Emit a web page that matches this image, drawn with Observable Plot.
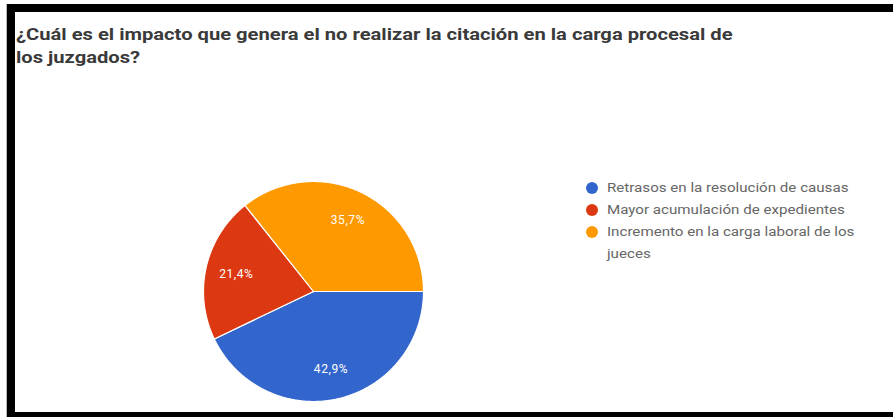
<!DOCTYPE html>
<html>
<head>
<meta charset="utf-8">
<script src="https://cdn.jsdelivr.net/npm/d3@7"></script>
<script src="https://cdn.jsdelivr.net/npm/@observablehq/plot@0.6"></script>
<style>
  html, body { margin: 0; padding: 0; background: #fff; }
  #frame {
    position: absolute; left: 7px; top: 4px; width: 886px; height: 413px;
    box-sizing: border-box;
    border-left: 8px solid #000; border-top: 8px solid #000; border-bottom: 5px solid #000;
    background: #fff; overflow: hidden;
  }
  #edge { position: absolute; left: 6px; top: 4px; width: 1px; height: 413px; background: #bbb; }
  #title {
    margin: 11px 0 0 1px; height: 46px;
    font: bold 16px Roboto, "Noto Sans", sans-serif; line-height: 23px; color: #3a3a3a;
    white-space: nowrap; transform: scaleX(1.26); transform-origin: 0 0;
  }
  #chart { position: relative; }
  #legend {
    position: absolute; left: 571px; top: 108px; width: 300px;
    font: 12px Roboto, "Noto Sans", sans-serif; color: #666; line-height: 22px;
  }
  .item { position: relative; padding-left: 21px; }
  .sw { position: absolute; left: 0; top: 5px; width: 12px; height: 12px; border-radius: 50%; }
  .lab { display: inline-block; white-space: pre-line; transform: scaleX(1.26); transform-origin: 0 0; }
</style>
</head>
<body>
<div id="edge"></div>
<div id="frame">
  <div id="title"></div>
  <div id="chart"><div id="legend"></div></div>
</div>
<script>
const titleLines = ["¿Cuál es el impacto que genera el no realizar la citación en la carga procesal de", "los juzgados?"];
const categories = ["Retrasos en la resolución de causas", "Mayor acumulación de expedientes", "Incremento en la carga laboral de los jueces"];
const legendLabels = ["Retrasos en la resolución de causas", "Mayor acumulación de expedientes", "Incremento en la carga laboral de los\njueces"];
const values = [42.9, 21.4, 35.7];
const labels = ["42,9%", "21,4%", "35,7%"];
const colors = ["#3366cc", "#dc3912", "#ff9900"];

document.getElementById("title").innerHTML = titleLines.join("<br>");

const W = 878, H = 343, R = 110, cx = 298, cy = 222;

const arcs = d3.pie().sort(null).startAngle(Math.PI / 2).endAngle(Math.PI / 2 + 2 * Math.PI)(values);

const pts = [];
arcs.forEach((a, i) => {
  const cat = categories[i];
  pts.push({cat, x: 0, y: 0});
  const n = Math.max(2, Math.ceil((a.endAngle - a.startAngle) / (Math.PI / 360)));
  for (let k = 0; k <= n; k++) {
    const t = a.startAngle + (a.endAngle - a.startAngle) * k / n;
    pts.push({cat, x: Math.sin(t), y: Math.cos(t)});
  }
  pts.push({cat, x: 0, y: 0});
});

const labelData = arcs.map((a, i) => {
  const m = (a.startAngle + a.endAngle) / 2;
  return {label: labels[i], x: 0.72 * Math.sin(m), y: 0.72 * Math.cos(m)};
});

const plot = Plot.plot({
  width: W, height: H, margin: 0,
  x: {domain: [-cx / R, (W - cx) / R], range: [0, W], axis: null},
  y: {domain: [-(H - cy) / R, cy / R], range: [H, 0], axis: null},
  color: {domain: categories, range: colors},
  style: {background: "transparent", letterSpacing: "0.6px"},
  marks: [
    Plot.line(pts, {x: "x", y: "y", z: "cat", fill: "cat", stroke: "white", strokeWidth: 1.2, strokeLinejoin: "round"}),
    Plot.text(labelData, {x: "x", y: "y", text: "label", fill: "white", fontSize: 12, fontFamily: "Roboto, sans-serif"})
  ]
});
document.getElementById("chart").insertBefore(plot, document.getElementById("legend"));

const legend = d3.select("#legend");
categories.forEach((c, i) => {
  const it = legend.append("div").attr("class", "item");
  it.append("span").attr("class", "sw").style("background", colors[i]);
  it.append("span").attr("class", "lab").text(legendLabels[i]);
});
</script>
</body>
</html>
